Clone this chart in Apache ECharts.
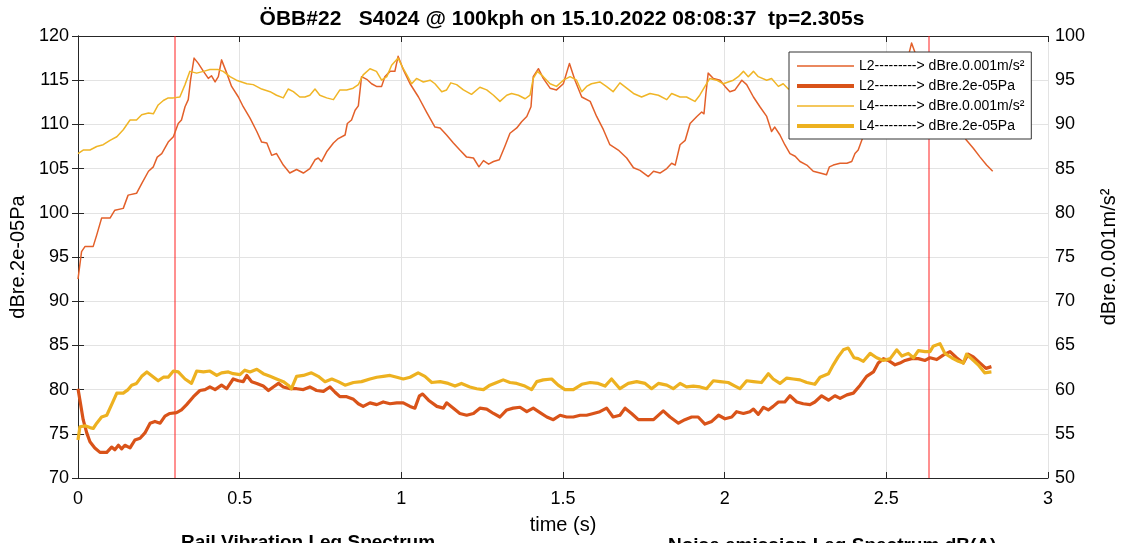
<!DOCTYPE html>
<html>
<head>
<meta charset="utf-8">
<script src="https://cdn.jsdelivr.net/npm/echarts@6/dist/echarts.min.js"></script>
<style>html,body{margin:0;padding:0;background:#fff}#c{width:1124px;height:543px}</style>
</head>
<body>
<div id="c"></div>
<script>
// ---- data (time s, level) ----
const titleText = 'ÖBB#22   S4024 @ 100kph on 15.10.2022 08:08:37  tp=2.305s';
const seriesNames = ['L2---------> dBre.0.001m/s²', 'L2---------> dBre.2e-05Pa', 'L4---------> dBre.0.001m/s²', 'L4---------> dBre.2e-05Pa'];
const xTicks = {min: 0, max: 3, interval: 0.5};
const yLeftTicks = {min: 70, max: 120, interval: 5};
const yRightTicks = {min: 50, max: 100, interval: 5};
const markerTimes = [0.3, 2.632];

// L2 rail vibration, dBre.0.001m/s² (right axis)
const l2Vib = [[0,72.5],[0.011,75.6],[0.022,76.2],[0.047,76.2],[0.058,77.5],[0.073,79.4],[0.099,79.4],[0.114,80.3],[0.14,80.5],[0.155,82.0],[0.181,82.2],[0.197,83.3],[0.218,84.7],[0.233,85.2],[0.245,86.3],[0.259,86.7],[0.279,88.0],[0.295,88.6],[0.3,88.6],[0.31,90.1],[0.32,90.5],[0.331,92.0],[0.341,92.8],[0.348,95.0],[0.359,97.5],[0.372,96.9],[0.388,96.0],[0.403,95.2],[0.413,95.5],[0.424,94.8],[0.434,95.4],[0.444,97.3],[0.46,95.8],[0.475,94.3],[0.496,93.1],[0.511,92.0],[0.532,90.7],[0.553,89.2],[0.568,88.0],[0.584,87.9],[0.599,86.5],[0.614,86.7],[0.635,85.4],[0.655,84.5],[0.676,84.9],[0.697,84.5],[0.717,85.0],[0.733,86.0],[0.743,86.2],[0.753,85.8],[0.769,86.9],[0.79,87.9],[0.805,88.4],[0.826,88.8],[0.833,90.1],[0.846,90.5],[0.857,91.6],[0.867,92.1],[0.877,95.4],[0.893,95.1],[0.908,94.6],[0.923,94.3],[0.939,94.3],[0.949,95.4],[0.965,96.0],[0.98,96.0],[0.99,97.7],[1.006,96.2],[1.027,94.6],[1.053,93.1],[1.078,91.4],[1.104,89.7],[1.12,89.6],[1.14,88.8],[1.161,87.9],[1.181,87.1],[1.202,86.3],[1.223,86.2],[1.24,85.2],[1.254,85.9],[1.27,85.5],[1.285,85.8],[1.303,86.0],[1.32,87.5],[1.336,89.0],[1.357,89.6],[1.372,90.3],[1.388,90.9],[1.401,92.0],[1.408,95.4],[1.424,96.3],[1.439,95.2],[1.46,94.1],[1.48,93.9],[1.501,94.6],[1.52,96.9],[1.537,95.0],[1.558,93.1],[1.584,92.6],[1.604,90.9],[1.625,89.4],[1.645,87.7],[1.671,87.1],[1.697,86.2],[1.718,85.1],[1.738,84.8],[1.764,84.1],[1.78,84.7],[1.8,84.5],[1.821,85.0],[1.836,85.6],[1.847,85.4],[1.862,87.7],[1.878,88.2],[1.893,90.1],[1.914,90.9],[1.929,91.4],[1.936,91.2],[1.942,93.5],[1.949,95.8],[1.965,95.2],[1.986,95.0],[2.001,94.3],[2.016,93.7],[2.032,93.9],[2.053,95.0],[2.068,94.5],[2.089,93.1],[2.109,92.0],[2.13,90.9],[2.145,89.2],[2.155,89.7],[2.171,88.8],[2.186,87.7],[2.202,86.7],[2.218,86.4],[2.233,85.8],[2.254,85.4],[2.274,84.7],[2.295,84.5],[2.315,84.3],[2.324,85.2],[2.336,85.4],[2.357,85.6],[2.378,85.6],[2.393,85.8],[2.403,86.7],[2.413,87.1],[2.424,88.2],[2.445,90.0],[2.465,92.0],[2.49,94.5],[2.515,95.5],[2.54,95.0],[2.56,96.5],[2.578,99.2],[2.595,97.5],[2.615,95.5],[2.64,94.5],[2.665,93.0],[2.69,91.5],[2.715,90.0],[2.748,88.2],[2.769,87.3],[2.79,86.3],[2.81,85.4],[2.829,84.7]];

// L2 noise emission, dBre.2e-05Pa (left axis)
const l2Noise = [[0,80.1],[0.006,78.8],[0.016,76.6],[0.027,75.1],[0.037,74.1],[0.052,73.4],[0.068,72.9],[0.089,72.9],[0.104,73.5],[0.114,73.2],[0.125,73.7],[0.135,73.3],[0.145,73.7],[0.161,73.4],[0.176,74.3],[0.192,74.5],[0.207,75.1],[0.223,76.2],[0.238,76.4],[0.254,76.2],[0.269,77.0],[0.284,77.3],[0.305,77.4],[0.32,77.7],[0.336,78.3],[0.357,79.2],[0.377,79.9],[0.393,80.0],[0.408,80.3],[0.424,80.0],[0.444,80.5],[0.46,80.1],[0.48,81.2],[0.496,81.0],[0.511,80.9],[0.522,81.6],[0.537,80.9],[0.553,80.7],[0.573,80.4],[0.589,79.9],[0.604,80.3],[0.62,80.7],[0.635,80.3],[0.656,80.1],[0.676,80.1],[0.697,80.0],[0.717,80.3],[0.738,79.9],[0.759,79.8],[0.779,80.3],[0.795,79.7],[0.81,79.2],[0.831,79.2],[0.852,78.9],[0.867,78.4],[0.882,78.1],[0.903,78.5],[0.924,78.3],[0.944,78.6],[0.965,78.4],[0.986,78.5],[1.006,78.5],[1.027,78.1],[1.042,77.9],[1.056,79.3],[1.066,79.5],[1.084,78.8],[1.11,78.1],[1.13,77.9],[1.14,78.5],[1.161,77.9],[1.181,77.3],[1.202,77.1],[1.223,77.3],[1.243,77.9],[1.264,77.8],[1.285,77.3],[1.305,76.9],[1.326,77.7],[1.346,77.9],[1.367,78.0],[1.388,77.5],[1.408,77.9],[1.429,77.4],[1.45,76.9],[1.47,76.6],[1.491,77.1],[1.511,76.9],[1.532,76.9],[1.553,77.1],[1.573,77.1],[1.594,77.3],[1.614,77.5],[1.635,77.9],[1.655,76.9],[1.676,77.1],[1.692,77.9],[1.712,77.3],[1.733,76.6],[1.754,76.6],[1.78,76.6],[1.81,77.6],[1.831,76.9],[1.857,76.2],[1.877,76.6],[1.898,76.9],[1.918,76.9],[1.939,76.1],[1.96,76.4],[1.981,77.1],[2.001,76.7],[2.022,76.9],[2.037,77.5],[2.058,77.3],[2.078,77.5],[2.089,77.8],[2.104,77.2],[2.12,78.0],[2.135,77.7],[2.15,78.1],[2.166,78.6],[2.186,78.6],[2.202,79.3],[2.223,78.6],[2.243,78.4],[2.264,78.3],[2.279,78.6],[2.3,79.3],[2.321,78.8],[2.341,79.3],[2.357,79.0],[2.378,79.4],[2.398,79.6],[2.419,80.5],[2.439,81.5],[2.46,82.0],[2.475,83.0],[2.491,83.5],[2.506,83.3],[2.527,82.8],[2.542,83.0],[2.558,83.3],[2.578,83.5],[2.599,83.5],[2.62,83.3],[2.635,83.6],[2.656,83.4],[2.676,83.9],[2.697,84.3],[2.717,83.6],[2.738,83.0],[2.753,84.0],[2.769,83.7],[2.79,83.0],[2.808,82.4],[2.825,82.6]];

// L4 rail vibration, dBre.0.001m/s² (right axis)
const l4Vib = [[0,86.7],[0.016,87.1],[0.037,87.1],[0.058,87.5],[0.078,87.7],[0.099,88.2],[0.12,88.6],[0.14,89.4],[0.161,90.5],[0.181,90.5],[0.197,91.1],[0.218,91.3],[0.233,91.2],[0.248,92.2],[0.264,92.7],[0.279,93.0],[0.295,93.0],[0.315,93.1],[0.331,94.5],[0.346,96.0],[0.367,95.8],[0.388,96.0],[0.408,96.2],[0.434,96.2],[0.449,96.0],[0.47,95.4],[0.49,95.0],[0.506,94.8],[0.522,94.6],[0.542,94.5],[0.568,94.0],[0.594,93.7],[0.614,93.3],[0.635,93.0],[0.65,94.0],[0.666,93.7],[0.686,93.1],[0.702,93.1],[0.717,93.3],[0.733,94.0],[0.748,93.3],[0.769,93.0],[0.79,92.8],[0.81,93.9],[0.831,93.9],[0.851,94.1],[0.867,94.5],[0.882,95.6],[0.903,96.3],[0.923,96.0],[0.939,95.0],[0.955,95.4],[0.97,96.7],[0.99,97.5],[1.006,96.3],[1.017,95.6],[1.032,94.6],[1.047,95.2],[1.068,94.8],[1.089,95.0],[1.104,94.6],[1.125,93.7],[1.14,93.9],[1.153,94.7],[1.171,94.5],[1.192,93.9],[1.217,93.4],[1.243,94.2],[1.264,93.9],[1.285,93.3],[1.305,92.6],[1.326,93.3],[1.341,93.5],[1.362,93.3],[1.383,92.9],[1.398,93.3],[1.408,95.2],[1.421,96.0],[1.439,95.4],[1.46,94.6],[1.48,94.3],[1.501,95.0],[1.522,95.4],[1.542,95.0],[1.558,93.7],[1.573,94.3],[1.588,94.6],[1.614,94.8],[1.634,94.3],[1.655,93.7],[1.676,94.7],[1.697,94.1],[1.718,93.5],[1.743,93.1],[1.769,93.5],[1.795,93.3],[1.821,92.8],[1.836,93.5],[1.862,93.1],[1.882,93.1],[1.908,92.6],[1.923,93.3],[1.939,94.3],[1.954,95.2],[1.975,95.0],[1.996,94.6],[2.011,94.8],[2.027,95.0],[2.042,95.4],[2.058,96.0],[2.073,95.4],[2.089,96.0],[2.104,95.4],[2.13,95.0],[2.145,95.2],[2.166,94.3],[2.181,94.6],[2.197,94.0],[2.23,94.4],[2.26,94.0],[2.29,93.6],[2.32,94.0],[2.35,94.6],[2.38,94.2],[2.41,94.8],[2.44,95.5],[2.47,95.0],[2.5,95.6],[2.53,95.2],[2.56,96.2],[2.58,97.8],[2.6,96.4],[2.63,95.6],[2.66,95.0],[2.7,94.4],[2.74,93.8],[2.78,93.2],[2.829,92.6]];

// L4 noise emission, dBre.2e-05Pa (left axis)
const l4Noise = [[0,74.3],[0.006,75.8],[0.022,75.9],[0.037,75.7],[0.047,75.6],[0.058,76.2],[0.073,76.9],[0.089,77.1],[0.104,78.3],[0.12,79.6],[0.14,79.6],[0.155,80.0],[0.166,80.5],[0.181,80.7],[0.197,81.5],[0.213,82.0],[0.227,81.6],[0.248,81.0],[0.264,81.4],[0.279,81.4],[0.295,82.1],[0.31,82.0],[0.331,81.2],[0.351,80.7],[0.367,82.1],[0.388,82.0],[0.408,82.1],[0.429,81.6],[0.444,81.9],[0.465,82.0],[0.48,81.8],[0.501,81.7],[0.516,82.2],[0.532,82.0],[0.553,82.3],[0.573,81.8],[0.594,81.5],[0.614,81.2],[0.635,80.9],[0.65,80.5],[0.66,80.1],[0.676,81.5],[0.697,81.6],[0.722,81.9],[0.743,81.5],[0.764,80.9],[0.785,81.2],[0.805,80.9],[0.826,80.5],[0.852,80.8],[0.877,80.9],[0.903,81.2],[0.924,81.4],[0.944,81.5],[0.965,81.6],[0.986,81.4],[1.006,81.2],[1.027,81.4],[1.052,81.9],[1.073,81.5],[1.094,80.8],[1.12,80.9],[1.145,80.7],[1.166,80.4],[1.186,80.7],[1.212,80.3],[1.233,80.1],[1.254,80.0],[1.274,80.5],[1.295,80.8],[1.315,81.1],[1.336,80.8],[1.357,80.7],[1.382,80.4],[1.403,80.0],[1.419,80.9],[1.439,81.1],[1.465,81.2],[1.485,80.5],[1.506,80.0],[1.532,80.0],[1.558,80.6],[1.584,80.8],[1.609,80.7],[1.63,80.4],[1.65,81.2],[1.676,80.1],[1.702,80.7],[1.728,80.9],[1.754,80.7],[1.774,80.1],[1.795,80.7],[1.821,80.5],[1.841,80.1],[1.862,80.7],[1.882,80.3],[1.903,80.4],[1.924,80.3],[1.944,80.1],[1.965,81.0],[1.986,80.9],[2.011,80.8],[2.032,80.4],[2.047,80.1],[2.068,81.0],[2.089,80.9],[2.114,80.8],[2.135,81.8],[2.15,81.2],[2.171,80.7],[2.192,81.3],[2.212,81.2],[2.233,81.1],[2.254,80.8],[2.279,80.6],[2.295,81.4],[2.321,81.8],[2.336,82.8],[2.351,83.7],[2.367,84.5],[2.382,84.7],[2.4,83.6],[2.413,83.5],[2.429,83.2],[2.45,84.1],[2.47,83.6],[2.491,83.3],[2.512,83.5],[2.532,84.5],[2.548,83.8],[2.568,84.1],[2.584,83.6],[2.599,84.4],[2.62,84.3],[2.635,84.3],[2.645,84.9],[2.666,85.2],[2.681,84.1],[2.702,83.6],[2.723,83.2],[2.738,83.0],[2.748,84.0],[2.763,83.5],[2.784,82.8],[2.804,81.9],[2.825,82.0]];

const subTitles = ['Rail Vibration Leq Spectrum', 'Noise emission Leq Spectrum dB(A)'];

// ---- chart ----
const FONT = '"Liberation Sans", Arial, sans-serif';
const AXC = '#262626';
const colors = ['#e3602a', '#d95319', '#f0b526', '#edb120'];
const widths = [1.5, 3.2, 1.5, 3.2];
const legendWidths = [1.5, 4, 1.5, 4];

const chart = echarts.init(document.getElementById('c'), null, {renderer: 'canvas'});
const dataSeries = [
  {name: seriesNames[0], type: 'line', yAxisIndex: 1, data: l2Vib},
  {name: seriesNames[1], type: 'line', yAxisIndex: 0, data: l2Noise},
  {name: seriesNames[2], type: 'line', yAxisIndex: 1, data: l4Vib},
  {name: seriesNames[3], type: 'line', yAxisIndex: 0, data: l4Noise}
].map((s, i) => Object.assign(s, {
  symbol: 'none', showSymbol: false, smooth: false, z: 3,
  color: colors[i], itemStyle: {color: colors[i]},
  lineStyle: {color: colors[i], width: widths[i], join: 'round'},
  emphasis: {disabled: true}
}));
// red vertical marker lines, drawn as 2-point line series on the axes' scales
const markerSeries = markerTimes.map((t, k) => ({
  name: 'marker' + k, type: 'line', xAxisIndex: 0, yAxisIndex: 0,
  data: [[t, yLeftTicks.min], [t, yLeftTicks.max]],
  symbol: 'none', showSymbol: false, silent: true, z: 2,
  color: '#ff2020', itemStyle: {color: '#ff2020'},
  lineStyle: {color: '#ff2020', width: 1, type: 'solid'},
  emphasis: {disabled: true}
}));

const option = {
  animation: false,
  textStyle: {fontFamily: FONT},
  title: {
    text: titleText, left: 'center', top: 4,
    textStyle: {fontFamily: FONT, fontSize: 21, fontWeight: 'bold', color: '#000'}
  },
  graphic: [
    {type: 'text', left: 181, top: 533, z: 100, style: {text: subTitles[0], font: 'bold 19px ' + FONT, fill: '#000'}},
    {type: 'text', left: 668, top: 536, z: 100, style: {text: subTitles[1], font: 'bold 19px ' + FONT, fill: '#000'}}
  ],
  grid: {left: 78, right: 76, top: 36, bottom: 65, containLabel: false, outerBoundsMode: 'none'},
  legend: {
    orient: 'vertical', left: 789, top: 52, z: 10,
    backgroundColor: '#fff', borderColor: '#333', borderWidth: 1,
    padding: [7, 7, 6, 6], itemGap: 6, itemWidth: 57, itemHeight: 14,
    itemStyle: {opacity: 0},
    textStyle: {fontFamily: FONT, fontSize: 14, color: '#000'},
    data: seriesNames.map((n, i) => ({name: n, lineStyle: {width: legendWidths[i], color: colors[i]}}))
  },
  xAxis: [
    {
      type: 'value', min: xTicks.min, max: xTicks.max, interval: xTicks.interval,
      name: 'time (s)', nameLocation: 'middle', nameGap: 37,
      nameTextStyle: {fontFamily: FONT, fontSize: 20, color: '#000'},
      axisLine: {show: true, lineStyle: {color: AXC, width: 1}},
      axisTick: {show: true, inside: true, length: 6, lineStyle: {color: AXC}},
      axisLabel: {fontFamily: FONT, fontSize: 18, color: '#000', margin: 12},
      splitLine: {show: true, lineStyle: {color: '#e3e3e3', width: 1}}
    },
    {
      type: 'value', position: 'top', min: xTicks.min, max: xTicks.max, interval: xTicks.interval,
      axisLine: {show: true, lineStyle: {color: AXC, width: 1}},
      axisTick: {show: true, inside: true, length: 6, lineStyle: {color: AXC}},
      axisLabel: {show: false}, splitLine: {show: false}
    }
  ],
  yAxis: [
    {
      type: 'value', position: 'left', min: yLeftTicks.min, max: yLeftTicks.max, interval: yLeftTicks.interval,
      name: 'dBre.2e-05Pa', nameLocation: 'middle', nameGap: 42, nameRotate: 90,
      nameTextStyle: {fontFamily: FONT, fontSize: 20, color: '#000'},
      axisLine: {show: true, lineStyle: {color: AXC, width: 1}},
      axisTick: {show: true, inside: true, length: 6, lineStyle: {color: AXC}},
      axisLabel: {fontFamily: FONT, fontSize: 18, color: '#000', margin: 9},
      splitLine: {show: true, lineStyle: {color: '#e3e3e3', width: 1}}
    },
    {
      type: 'value', position: 'right', min: yRightTicks.min, max: yRightTicks.max, interval: yRightTicks.interval,
      name: 'dBre.0.001m/s²', nameLocation: 'middle', nameGap: 51, nameRotate: 90,
      nameTextStyle: {fontFamily: FONT, fontSize: 20, color: '#000'},
      axisLine: {show: true, lineStyle: {color: AXC, width: 1}},
      axisTick: {show: true, inside: true, length: 6, lineStyle: {color: AXC}},
      axisLabel: {fontFamily: FONT, fontSize: 18, color: '#000', margin: 7},
      splitLine: {show: false}
    }
  ],
  series: dataSeries.concat(markerSeries)
};
chart.setOption(option);
</script>
</body>
</html>
